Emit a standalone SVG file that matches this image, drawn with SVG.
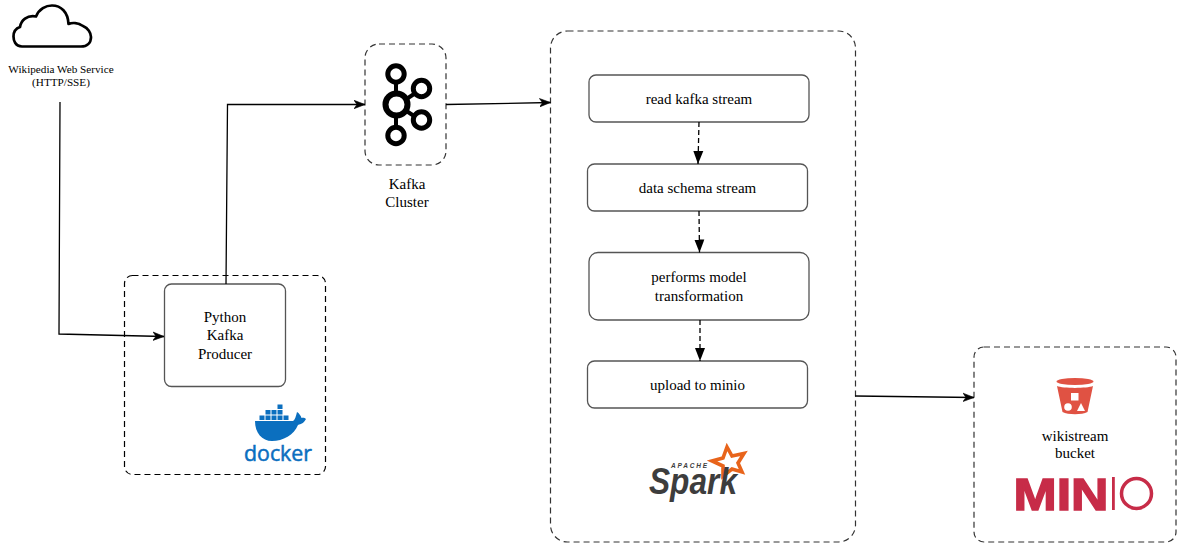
<svg xmlns="http://www.w3.org/2000/svg" width="1187" height="550" viewBox="0 0 1187 550">
<style>
text{font-family:"Liberation Serif","Times New Roman",serif;fill:#000;text-anchor:middle}
.t13{font-size:15px}
.t11{font-size:11.2px}
.dash{fill:#fff;stroke:#333;stroke-width:1.2;stroke-dasharray:6 4}
.dashk{fill:#fff;stroke:#000;stroke-width:1.2;stroke-dasharray:6 4}
.box{fill:#fff;stroke:#555;stroke-width:1.3}
.c{fill:none;stroke:#000;stroke-width:1.3}
.k{fill:none;stroke:#000}
</style>
<defs>
<marker id="open" markerUnits="userSpaceOnUse" markerWidth="12" markerHeight="10" refX="11" refY="5" orient="auto"><path d="M0 0.8L11 5L0 9.2L3 5Z" fill="#000" stroke="#000" stroke-width="0.6"/></marker>
<marker id="block" markerUnits="userSpaceOnUse" markerWidth="14" markerHeight="12" refX="13" refY="5.500" orient="auto"><path d="M0 0.500L13 5.500L0 10.500Z" fill="#000"/></marker>
</defs>
<rect width="1187" height="550" fill="#fff"/>
<g id="wikipedia">
<path d="M22 46.500C15 46.500 13.500 40 13.500 36.500C13.500 31 17 28 20 27C21 20 27 15 36 16.500C39 9 46 5.500 52 5.500C61 5.500 68 12 68.500 24C72 22.500 78 22.500 83 26C88 28 91 33 91 37C91 43 87 46.500 81 46.500Z" fill="#fff" stroke="#000" stroke-width="2.700" stroke-linejoin="round"/>
<text class="t11" x="61" y="73">Wikipedia Web Service</text>
<text class="t11" x="61" y="86">(HTTP/SSE)</text>
</g>
<g id="docker-group">
<rect class="dashk" x="124.500" y="275.500" width="201" height="199" rx="8"/>
<g id="docker-logo" fill="#0b6fbf">
<path d="M255 421H293C295 420 296 416 297 412C299 413 301 416 301.500 418C303 417.500 305 418 306 419C304 423 301 424 298 425C294 435 283 441 272 441C262 441 255 433 255 421Z"/>
<rect x="259.500" y="415.500" width="5" height="4.500"/><rect x="265.500" y="415.500" width="5" height="4.500"/><rect x="271.500" y="415.500" width="5" height="4.500"/><rect x="277.500" y="415.500" width="5" height="4.500"/><rect x="283.500" y="415.500" width="5" height="4.500"/>
<rect x="265.500" y="410" width="5" height="4.500"/><rect x="271.500" y="410" width="5" height="4.500"/><rect x="277.500" y="410" width="5" height="4.500"/>
<rect x="277.500" y="404.500" width="5" height="4.500"/>
<text x="278" y="461" textLength="68" lengthAdjust="spacingAndGlyphs" style="font-family:'Open Sans',sans-serif;font-size:21px;fill:#0b6fbf;stroke:#0b6fbf;stroke-width:0.500">docker</text>
</g>
</g>
<g id="producer">
<rect class="box" x="164.500" y="284" width="121" height="102.500" rx="7"/>
<text class="t13" x="225" y="321.500">Python</text>
<text class="t13" x="225" y="339.500">Kafka</text>
<text class="t13" x="225" y="358.500">Producer</text>
</g>
<g id="kafka">
<rect class="dash" x="365" y="44" width="81" height="121" rx="14"/>
<g class="k">
<path stroke-width="4" d="M396 82V94M396 116V127M405 100L414 94M405 110L414 116"/>
<circle cx="396.500" cy="104.500" r="11" stroke-width="6"/>
<circle cx="396" cy="74" r="8.200" stroke-width="5"/>
<circle cx="396" cy="135.500" r="8.200" stroke-width="5"/>
<circle cx="421.500" cy="88.500" r="8.200" stroke-width="5"/>
<circle cx="421.500" cy="120" r="8.200" stroke-width="5"/>
</g>
<text class="t13" x="407" y="188.500">Kafka</text>
<text class="t13" x="407" y="206.500">Cluster</text>
</g>
<g id="spark">
<rect class="dash" x="550.500" y="31" width="305" height="511" rx="17"/>
<g id="spark-logo">
<path d="M727 447L732 456L744 453.500L738 463L742 472L732 469L723 476L723 466L712 461L723 458Z" fill="none" stroke="#e8641b" stroke-width="3.600" stroke-linejoin="miter"/>
<text x="689" y="468" textLength="36" lengthAdjust="spacing" style="font-family:'Liberation Sans',sans-serif;font-size:6.500px;font-weight:bold;font-style:italic;fill:#3d3d3d">APACHE</text>
<text x="693" y="494" textLength="88" lengthAdjust="spacingAndGlyphs" style="font-family:'Liberation Sans',sans-serif;font-size:37px;font-weight:bold;font-style:italic;fill:#3d3d3d">Spark</text>
</g>
</g>
<g id="read-stream"><rect class="box" x="589" y="75" width="220" height="47" rx="7"/><text class="t13" x="699" y="103.500">read kafka stream</text></g>
<g id="data-schema"><rect class="box" x="587.500" y="164" width="220" height="47" rx="7"/><text class="t13" x="697.500" y="192.500">data schema stream</text></g>
<g id="transform"><rect class="box" x="589" y="252.500" width="220" height="67.500" rx="9"/><text class="t13" x="699" y="282">performs model</text><text class="t13" x="699" y="300.500">transformation</text></g>
<g id="upload"><rect class="box" x="587.500" y="361" width="220" height="47" rx="7"/><text class="t13" x="697.500" y="389.500">upload to minio</text></g>
<g id="minio">
<rect class="dash" x="974" y="347" width="202" height="195" rx="10"/>
<g id="bucket" fill="#e05243">
<path d="M1057 386C1063 388.500 1087 388.500 1093 386L1087.500 412C1082 415 1068 415 1062.500 412Z"/>
<ellipse cx="1075" cy="381.500" rx="18.500" ry="3.500"/>
<rect x="1071" y="393" width="7.500" height="7.500" fill="#fff"/>
<circle cx="1068" cy="407" r="3.800" fill="#fff"/>
<path d="M1081 403L1085 411H1077Z" fill="#fff"/>
</g>
<text class="t13" x="1075" y="441">wikistream</text>
<text class="t13" x="1075" y="458">bucket</text>
<g id="minio-logo" fill="#c72c48">
<text x="1061" y="510" textLength="95" lengthAdjust="spacingAndGlyphs" style="font-family:'Liberation Sans',sans-serif;font-size:45px;font-weight:bold;fill:#c72c48;stroke:#c72c48;stroke-width:1.500">MIN</text>
<rect x="1112" y="477" width="2.800" height="33"/>
<circle cx="1136.500" cy="493.500" r="15" fill="none" stroke="#c72c48" stroke-width="3.500"/>
</g>
</g>
<g id="connectors">
<path class="c" d="M60 102L59 334L164 336.500" marker-end="url(#open)"/>
<path class="c" d="M226 284L227.500 104.500H365" marker-end="url(#open)"/>
<path class="c" d="M446 104.500L550.500 102.500" marker-end="url(#open)"/>
<path class="c" d="M855 396L974 397.500" marker-end="url(#open)"/>
<path class="c" stroke-dasharray="5 3" d="M699 122L698 164" marker-end="url(#block)"/>
<path class="c" stroke-dasharray="5 3" d="M699 211L699.500 252.500" marker-end="url(#block)"/>
<path class="c" stroke-dasharray="5 3" d="M700 320L700 361" marker-end="url(#block)"/>
</g>
</svg>
